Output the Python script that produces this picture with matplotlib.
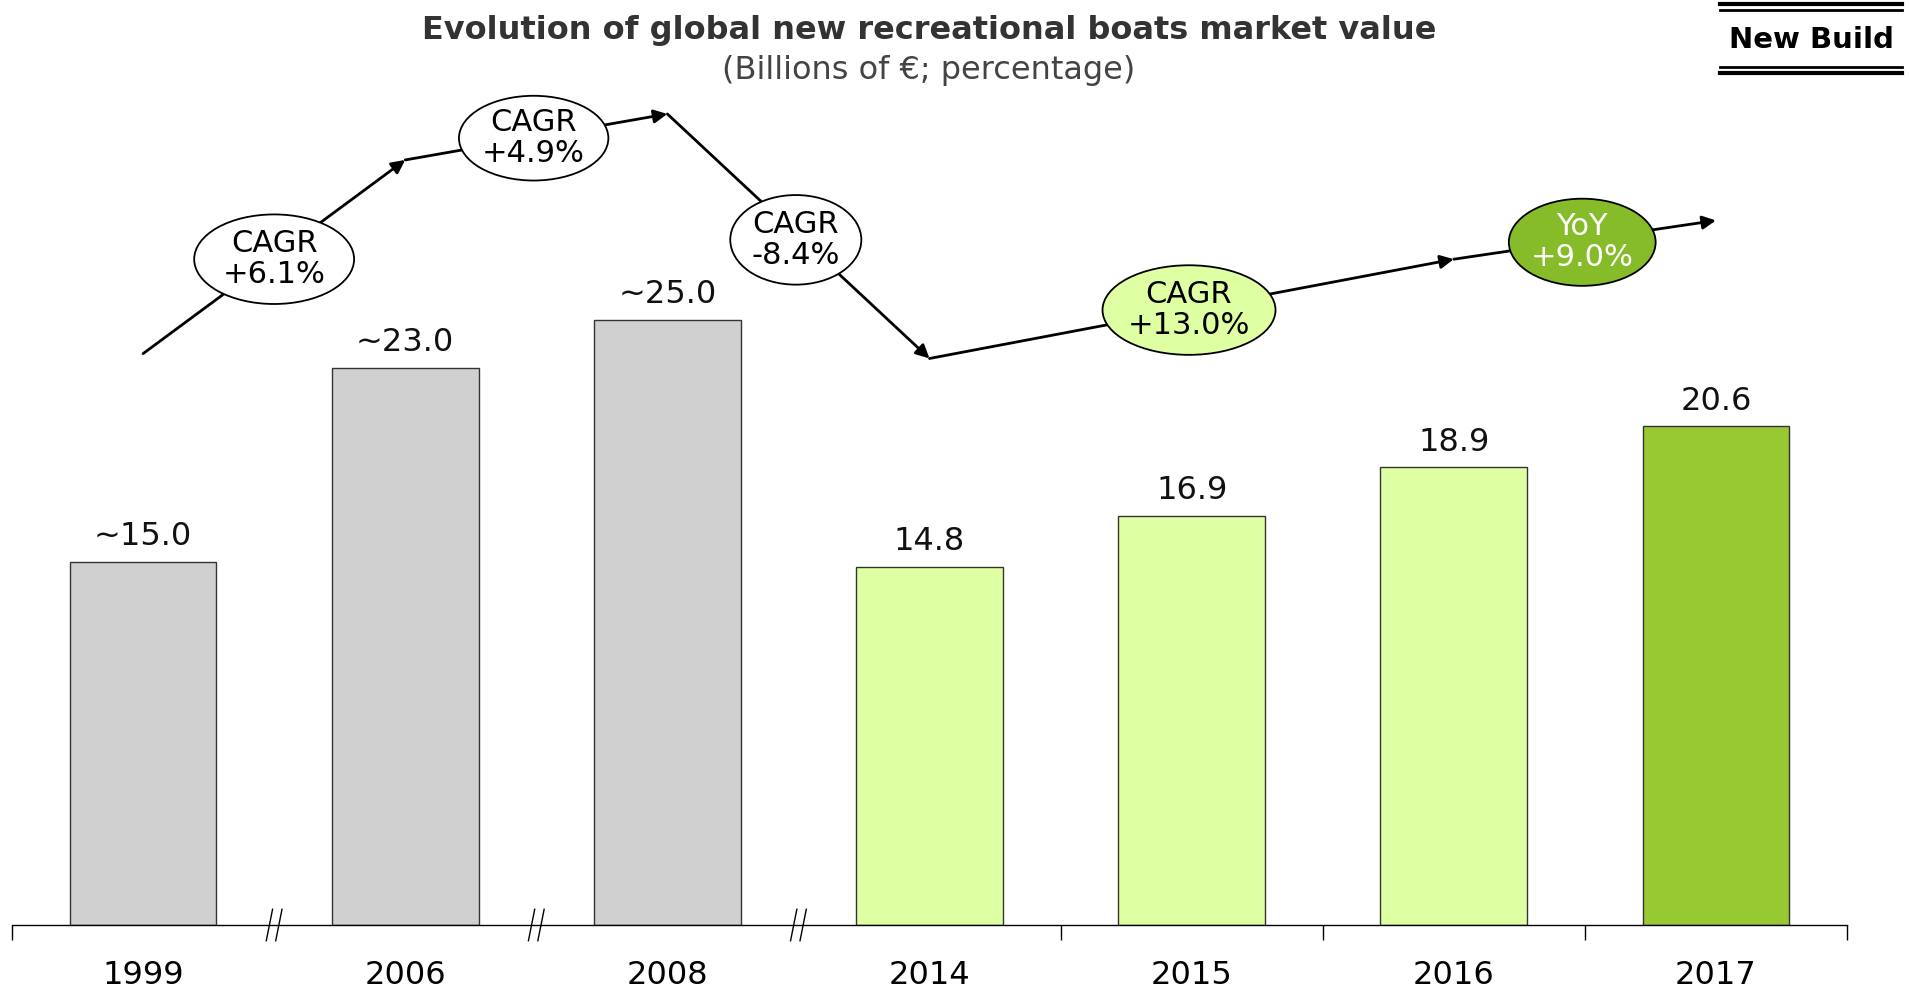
import matplotlib.pyplot as plt
from matplotlib.patches import Ellipse
from matplotlib.lines import Line2D

plt.rcParams['font.family'] = ['DejaVu Sans']

years = ['1999', '2006', '2008', '2014', '2015', '2016', '2017']
values = [15.0, 23.0, 25.0, 14.8, 16.9, 18.9, 20.6]
value_labels = ['~15.0', '~23.0', '~25.0', '14.8', '16.9', '18.9', '20.6']
bar_colors = ['#d0d0d0', '#d0d0d0', '#d0d0d0', '#dfffa3', '#dfffa3', '#dfffa3', '#99c932']

# growth arrow path (category index, level) and the bubbles sitting on it
path_x = [0, 1, 2, 3, 5, 6]
path_y = [23.6, 31.6, 33.5, 23.4, 27.5, 29.1]
bubble_text = ['CAGR\n+6.1%', 'CAGR\n+4.9%', 'CAGR\n-8.4%', 'CAGR\n+13.0%', 'YoY\n+9.0%']
bubble_x = [0.5, 1.49, 2.49, 3.99, 5.49]
bubble_y = [27.5, 32.5, 28.3, 25.4, 28.2]
bubble_w = [0.61, 0.57, 0.50, 0.66, 0.56]
bubble_h = [3.7, 3.5, 3.7, 3.7, 3.6]
bubble_fill = ['white', 'white', 'white', '#dfffa3', '#86bc2a']
bubble_textcolor = ['black', 'black', 'black', 'black', 'white']

breaks = [0.5, 1.5, 2.5]

fig = plt.figure(figsize=(19.1, 9.9), dpi=100)
ax = fig.add_axes([12 / 1910, 65 / 990, 1835 / 1910, 920 / 990])

x = range(len(years))
ax.bar(x, values, width=0.56, color=bar_colors, edgecolor='#333333', linewidth=1, zorder=2)
for i, (v, lab) in enumerate(zip(values, value_labels)):
    ax.text(i, v + 0.4, lab, ha='center', va='bottom', fontsize=23, color='#111111')

ax.set_xlim(-0.5, 6.5)
ax.set_ylim(0, 38)
ax.set_yticks([])
for s in ['top', 'right', 'left']:
    ax.spines[s].set_visible(False)
ax.spines['bottom'].set_linewidth(1)
ax.set_xticks(list(x), years, fontsize=23)
ax.tick_params(axis='x', which='major', length=0, pad=25)
ax.set_xticks([-0.5, 3.5, 4.5, 5.5, 6.5], minor=True)
ax.tick_params(axis='x', which='minor', length=11, width=1, direction='out')

# axis break marks
for b in breaks:
    for dx in (-0.018, 0.018):
        ax.add_line(Line2D([b + dx - 0.012, b + dx + 0.012], [-0.65, 0.65],
                           color='black', lw=1, clip_on=False, zorder=3))

# arrows
for i in range(len(path_x) - 1):
    ax.annotate('', xy=(path_x[i + 1], path_y[i + 1]), xytext=(path_x[i], path_y[i]),
                arrowprops=dict(arrowstyle='-|>', color='black', lw=2,
                                mutation_scale=20, shrinkA=0, shrinkB=0),
                zorder=3)

for bx, by, bw, bh, fc, t, tc in zip(bubble_x, bubble_y, bubble_w, bubble_h,
                                     bubble_fill, bubble_text, bubble_textcolor):
    ax.add_patch(Ellipse((bx, by), bw, bh, facecolor=fc, edgecolor='black', lw=1.3, zorder=4))
    ax.text(bx, by, t, ha='center', va='center', fontsize=22, color=tc,
            linespacing=1.07, zorder=5)

fig.text(929 / 1910, 1 - 31 / 990, 'Evolution of global new recreational boats market value',
         ha='center', va='center', fontsize=23, fontweight='bold', color='#333333')
fig.text(929 / 1910, 1 - 70 / 990, '(Billions of €; percentage)',
         ha='center', va='center', fontsize=23, color='#444444')

# "New Build" tag
fig.text(1811 / 1910, 1 - 40 / 990, 'New Build', ha='center', va='center',
         fontsize=21, fontweight='bold', color='black')
for yy, lw in [(4, 3), (10, 2), (67, 2), (73, 3)]:
    fig.add_artist(Line2D([1720 / 1910, 1902 / 1910], [1 - yy / 990, 1 - yy / 990],
                          color='black', lw=lw))

fig.savefig('out.png', dpi=100)
